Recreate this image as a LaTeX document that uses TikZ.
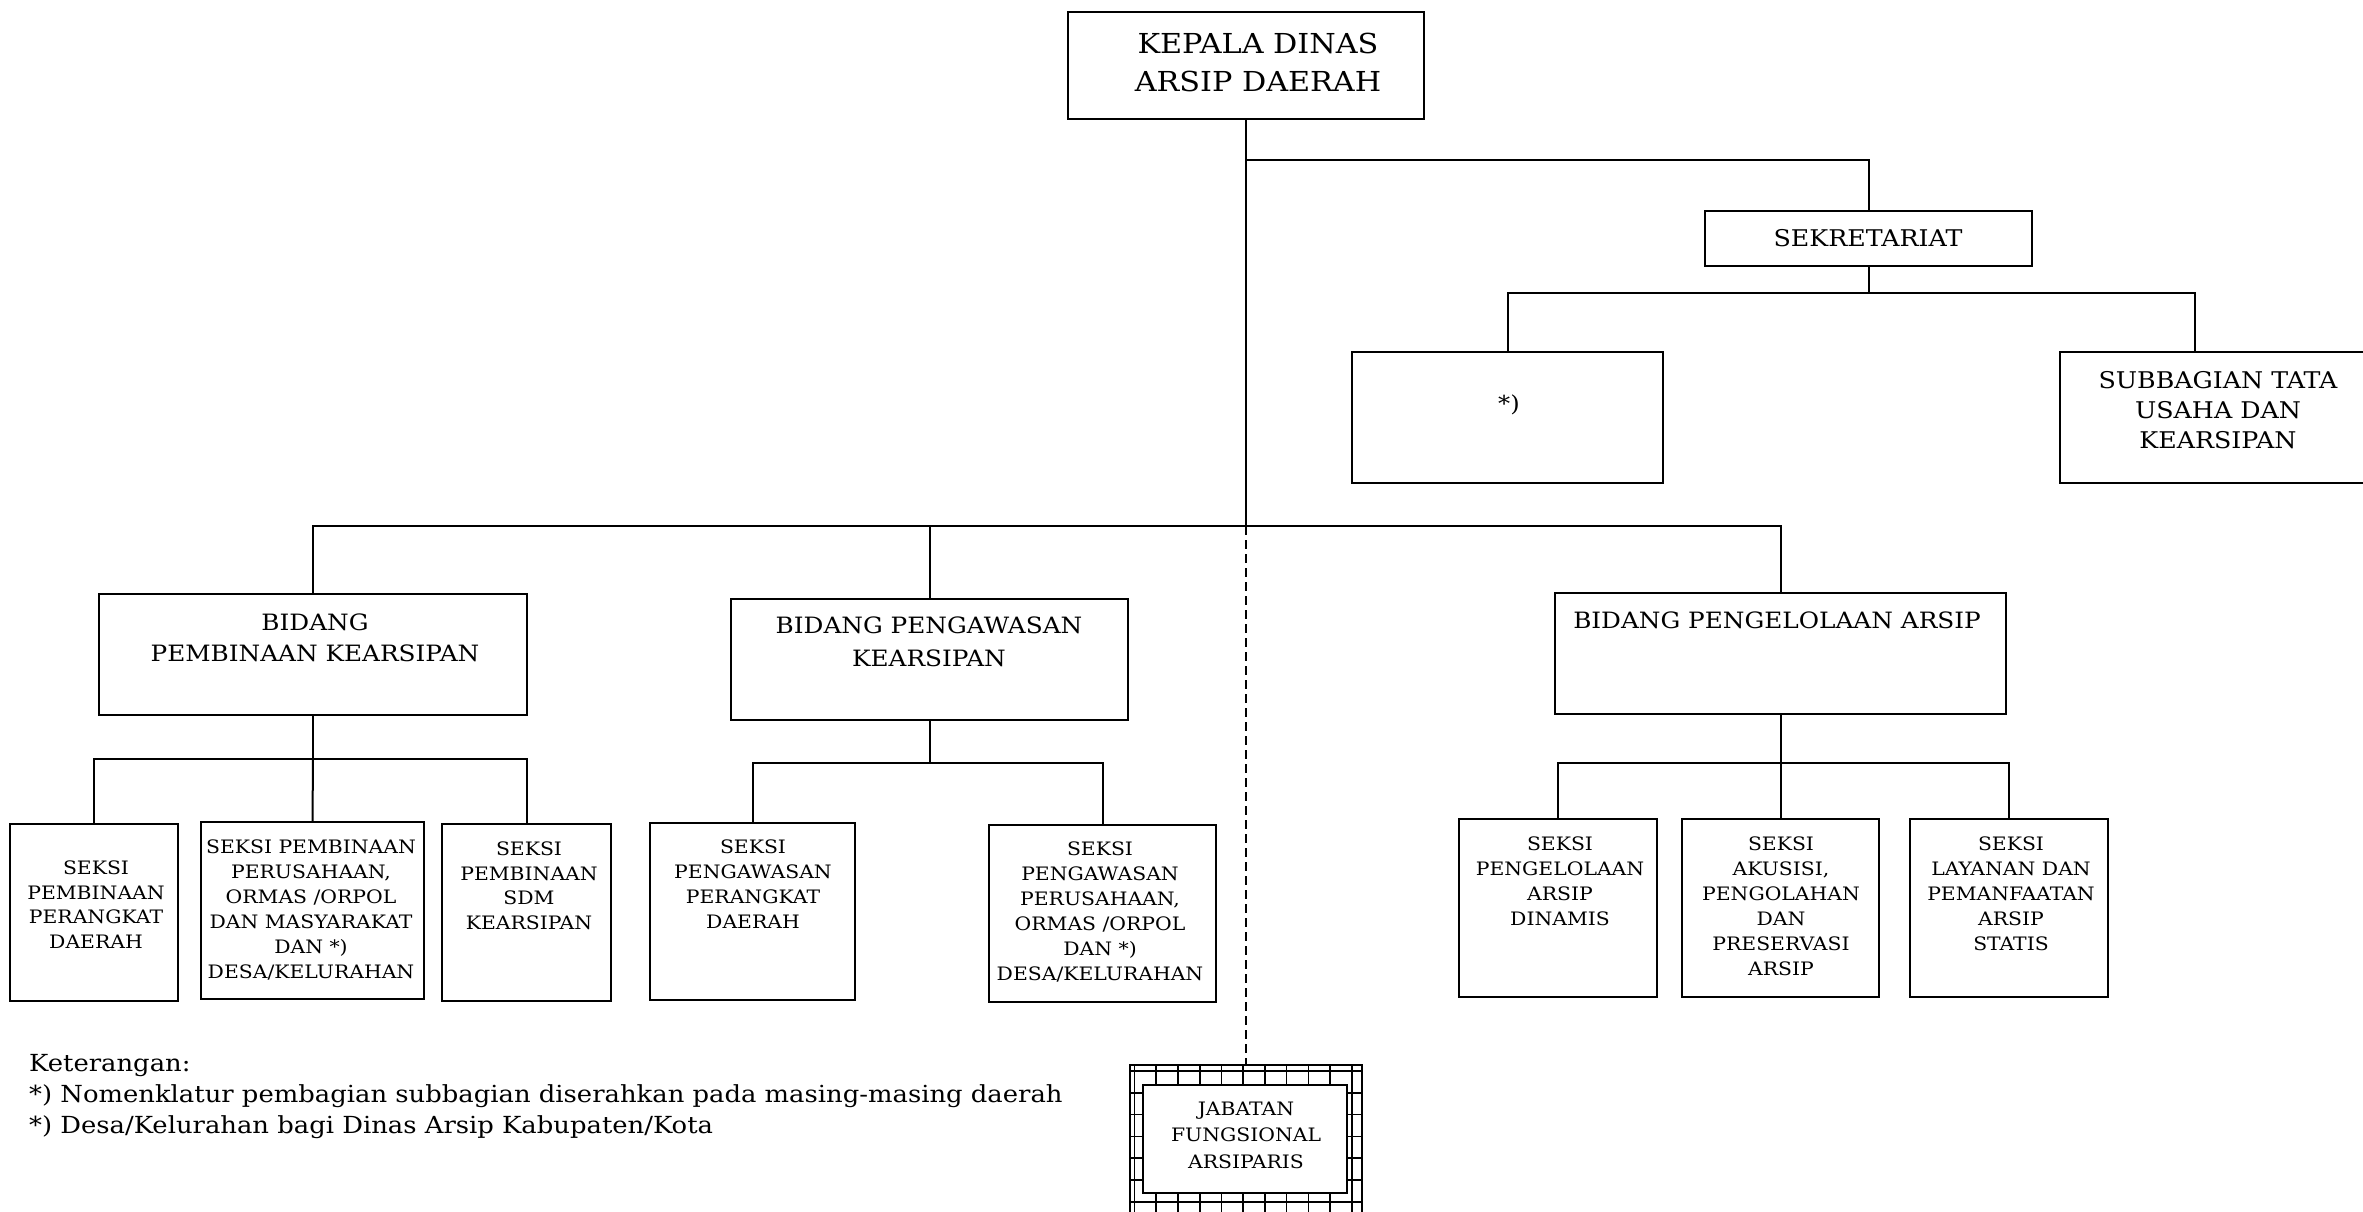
\documentclass[tikz,border=0pt]{standalone}
\usepackage{fontspec}
\setmainfont{DejaVu Serif}[FakeStretch=1.1]
\newcommand\orgbox[6][]{\node[bx,#1,minimum width={#5-#3},minimum height={#6-#4}] (#2) at ({(#3+#5)/2},{(#4+#6)/2}) {};}
\newcommand\orgtext[6]{\node[tx,font=\fontsize{#4}{#5}\selectfont] (#1) at (#2,{#3-0.729*#4}) {#6};}
\begin{document}
\begin{tikzpicture}[x=1pt,y=-1pt,
  bx/.style={draw,line width=2.2pt,inner sep=0pt,rectangle},
  tx/.style={anchor=north,align=center,inner sep=0pt},
  ln/.style={line width=2pt},
  dl/.style={line width=1.8pt,dash pattern=on 9pt off 5pt},
  gl/.style={line width=1.6pt}]
\clip (0,0) rectangle (2363,1211);
\fill[white] (0,0) rectangle (2363,1211);

% boxes
\orgbox{kep}{1068}{12}{1424}{119}
\orgbox{sek}{1705}{211}{2032}{266}
\orgbox{star}{1352}{352}{1663}{483}
\orgbox{sub}{2060}{352}{2390}{483}
\orgbox{bid1}{99}{594}{527}{715}
\orgbox{bid2}{731}{599}{1128}{720}
\orgbox{bid3}{1555}{593}{2006}{714}
\orgbox{s1}{10}{824}{178}{1001}
\orgbox{s2}{201}{822}{424}{999}
\orgbox{s3}{442}{824}{611}{1001}
\orgbox{s4}{650}{823}{855}{1000}
\orgbox{s5}{989}{825}{1216}{1002}
\orgbox{s6}{1459}{819}{1657}{997}
\orgbox{s7}{1682}{819}{1879}{997}
\orgbox{s8}{1910}{819}{2108}{997}

% jabatan fungsional (hatched frame)
\begin{scope}
  \clip (1130,1065) rectangle (1362,1240);
  \foreach \i in {0,...,10} \draw[gl] ({1134.5+21.74*\i},1060) -- ++(0,190);
  \foreach \j in {0,...,7} \draw[gl] (1125,{1071+21.8*\j}) -- ++(245,0);
\end{scope}
\orgbox{jabo}{1130}{1065}{1362}{1240}
\orgbox[fill=white]{jabi}{1143}{1085}{1347}{1193}

% texts
\orgtext{tkep}{1258}{53}{27.5}{38}{KEPALA DINAS\\ARSIP DAERAH}
\orgtext{tsek}{1868}{246}{23}{28}{SEKRETARIAT}
\orgtext{tstar}{1509}{411}{22}{26}{*)}
\orgtext{tsub}{2218}{388}{23}{30}{SUBBAGIAN TATA\\USAHA DAN\\KEARSIPAN}
\orgtext{tb1}{315}{630}{22.5}{31}{BIDANG\\PEMBINAAN KEARSIPAN}
\orgtext{tb2}{929}{633}{22.5}{33}{BIDANG PENGAWASAN\\KEARSIPAN}
\orgtext{tb3}{1777}{628}{22.5}{31}{BIDANG PENGELOLAAN ARSIP}
\orgtext{ts1}{96}{874}{18.5}{24.7}{SEKSI\\PEMBINAAN\\PERANGKAT\\DAERAH}
\orgtext{ts2}{311}{853}{18.5}{25}{SEKSI PEMBINAAN\\PERUSAHAAN,\\ORMAS /ORPOL\\DAN MASYARAKAT\\DAN *)\\DESA/KELURAHAN}
\orgtext{ts3}{529}{855}{18.5}{24.7}{SEKSI\\PEMBINAAN\\SDM\\KEARSIPAN}
\orgtext{ts4}{753}{853}{18.5}{25}{SEKSI\\PENGAWASAN\\PERANGKAT\\DAERAH}
\orgtext{ts5}{1100}{855}{18.5}{25}{SEKSI\\PENGAWASAN\\PERUSAHAAN,\\ORMAS /ORPOL\\DAN *)\\DESA/KELURAHAN}
\orgtext{ts6}{1560}{850}{18.5}{25}{SEKSI\\PENGELOLAAN\\ARSIP\\DINAMIS}
\orgtext{ts7}{1781}{850}{18.5}{25}{SEKSI\\AKUSISI,\\PENGOLAHAN\\DAN\\PRESERVASI\\ARSIP}
\orgtext{ts8}{2011}{850}{18.5}{25}{SEKSI\\LAYANAN DAN\\PEMANFAATAN\\ARSIP\\STATIS}
\orgtext{tjab}{1246}{1115}{18.5}{26.5}{JABATAN\\FUNGSIONAL\\ARSIPARIS}

\node[anchor=north west,align=left,inner sep=0pt,font=\fontsize{23.5}{31}\selectfont] (ket) at (29,{1071-0.729*23.5})
  {Keterangan:\\{}*) Nomenklatur pembagian subbagian diserahkan pada masing-masing daerah\\{}*) Desa/Kelurahan bagi Dinas Arsip Kabupaten/Kota};

% connectors
\coordinate (jA) at (1246,160);
\coordinate (jB) at (1246,526);
\draw[ln] (kep.south) -- (jB);
\draw[ln] (jA) -| (sek.north);
\draw[ln] (sek.south) -- ++(0,26) coordinate (jS);
\draw[ln] (star.north) |- (jS) -| (sub.north west -| 2195,0);
\draw[ln] (bid1.north) |- (jB) -| (bid3.north);
\draw[ln] (bid2.north) -- (bid2.north |- jB);
\draw[dl] (jB) -- (jabo.north);

\draw[ln] (bid1.south) -- ++(0,43) coordinate (j1);
\draw[ln] (s1.north) |- (j1) -| (s3.north);
\draw[ln] (j1) -- (s2.north);

\draw[ln] (bid2.south) -- ++(0,42) coordinate (j2);
\draw[ln] (s4.north) |- (j2) -| (s5.north);

\draw[ln] (bid3.south) -- ++(0,48) coordinate (j3);
\draw[ln] (s6.north) |- (j3) -| (s8.north);
\draw[ln] (j3) -- (s7.north);
\end{tikzpicture}
\end{document}
